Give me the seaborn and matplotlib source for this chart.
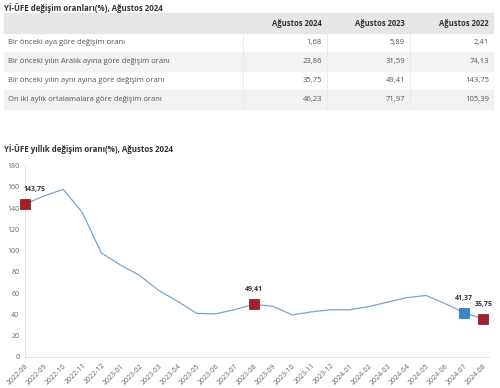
import matplotlib
matplotlib.use("Agg")
import matplotlib.pyplot as plt
import seaborn as sns
import pandas as pd
from matplotlib.patches import Rectangle

# Table data
table_title = "Yİ-ÜFE değişim oranları(%), Ağustos 2024"
col_headers = ["Ağustos 2024", "Ağustos 2023", "Ağustos 2022"]
row_labels = [
    "Bir önceki aya göre değişim oranı",
    "Bir önceki yılın Aralık ayına göre değişim oranı",
    "Bir önceki yılın aynı ayına göre değişim oranı",
    "On iki aylık ortalamalara göre değişim oranı",
]
aug_2024 = ["1,68", "23,86", "35,75", "46,23"]
aug_2023 = ["5,89", "31,59", "49,41", "71,97"]
aug_2022 = ["2,41", "74,13", "143,75", "105,39"]

# Line chart data
chart_title = "Yİ-ÜFE yıllık değişim oranı(%), Ağustos 2024"
months = ["2022-08", "2022-09", "2022-10", "2022-11", "2022-12",
          "2023-01", "2023-02", "2023-03", "2023-04", "2023-05", "2023-06",
          "2023-07", "2023-08", "2023-09", "2023-10", "2023-11", "2023-12",
          "2024-01", "2024-02", "2024-03", "2024-04", "2024-05", "2024-06",
          "2024-07", "2024-08"]
annual_rate = [143.75, 151.50, 157.69, 136.02, 97.72,
               86.46, 76.61, 62.43, 52.11, 40.76, 40.42,
               44.50, 49.41, 47.44, 39.39, 42.25, 44.22,
               44.20, 47.29, 51.47, 55.66, 57.68, 50.09,
               41.37, 35.75]
highlight_red = ["2022-08", "2023-08", "2024-08"]
highlight_blue = ["2024-07"]

sns.set_style("white")
plt.rcParams["font.family"] = ["Open Sans", "DejaVu Sans"]

W, H = 500, 388
fig = plt.figure(figsize=(5, 3.88), dpi=100)

def fx(px):
    return px / W

def fy(py):
    return 1 - py / H

# ---- table ----
fig.text(fx(4), fy(8), table_title, fontsize=5.7, fontweight="bold",
         color="#333333", va="center", ha="left")

row_h = 19
top = 13
fig.patches.append(Rectangle((fx(4), fy(top + 20)), fx(489), 20 / H,
                             transform=fig.transFigure, color="#e6e6e6", zorder=0))
for i in range(len(row_labels)):
    y0 = top + 20 + i * row_h
    if i % 2 == 1:
        fig.patches.append(Rectangle((fx(4), fy(y0 + row_h)), fx(489), row_h / H,
                                     transform=fig.transFigure, color="#f2f2f2", zorder=0))
for sx in [243, 327, 410]:
    fig.add_artist(plt.Line2D([fx(sx), fx(sx)], [fy(top), fy(top + 20 + 4 * row_h)],
                              color="#e9e9e9", lw=0.6))

col_right = [322, 405, 489]
for j, h in enumerate(col_headers):
    fig.text(fx(col_right[j]), fy(top + 10), h, fontsize=5.5, fontweight="bold",
             color="#333333", ha="right", va="center")
cols = [aug_2024, aug_2023, aug_2022]
for i, lab in enumerate(row_labels):
    yc = top + 20 + i * row_h + row_h / 2
    fig.text(fx(8), fy(yc), lab, fontsize=5.5, color="#555555", ha="left", va="center")
    for j in range(3):
        fig.text(fx(col_right[j]), fy(yc), cols[j][i], fontsize=5.5,
                 color="#555555", ha="right", va="center")

# ---- line chart ----
fig.text(fx(4), fy(149), chart_title, fontsize=5.7, fontweight="bold",
         color="#333333", va="center", ha="left")

ax = fig.add_axes([fx(25), fy(356.7), fx(489 - 25), (356.7 - 165.7) / H])
df = pd.DataFrame({"month": months, "rate": annual_rate})
df["idx"] = range(len(df))

sns.lineplot(data=df, x="idx", y="rate", ax=ax, color="#7aa6c9", lw=0.9)

red = df[df["month"].isin(highlight_red)]
blue = df[df["month"].isin(highlight_blue)]
sns.scatterplot(data=red, x="idx", y="rate", ax=ax, marker="s", s=46,
                color="#a51e2a", edgecolor="#7a1018", linewidth=0.5, zorder=5,
                clip_on=False)
sns.scatterplot(data=blue, x="idx", y="rate", ax=ax, marker="s", s=46,
                color="#3c84c4", edgecolor="#2a6aa3", linewidth=0.5, zorder=5,
                clip_on=False)

for _, r in pd.concat([red, blue]).iterrows():
    dx = 7 if r["idx"] == 0 else 0
    ax.annotate(f"{r['rate']:.2f}".replace(".", ","), (r["idx"], r["rate"]),
                xytext=(dx, 8), textcoords="offset points", ha="center",
                va="bottom", fontsize=5.0, fontweight="bold", color="#333333",
                zorder=6, annotation_clip=False)

ax.set_xlim(0, 24.3)
ax.set_ylim(0, 180)
ax.set_yticks(range(0, 181, 20))
ax.set_xticks(df["idx"])
ax.set_xticklabels(months, rotation=45, ha="right", rotation_mode="anchor")
ax.tick_params(axis="both", labelsize=5.0, colors="#666666", length=0, pad=4)
ax.set_xlabel("")
ax.set_ylabel("")
for s in ["top", "right"]:
    ax.spines[s].set_visible(False)
for s in ["left", "bottom"]:
    ax.spines[s].set_color("#e0e0e0")
    ax.spines[s].set_linewidth(0.6)

fig.savefig("out.png", dpi=100)
